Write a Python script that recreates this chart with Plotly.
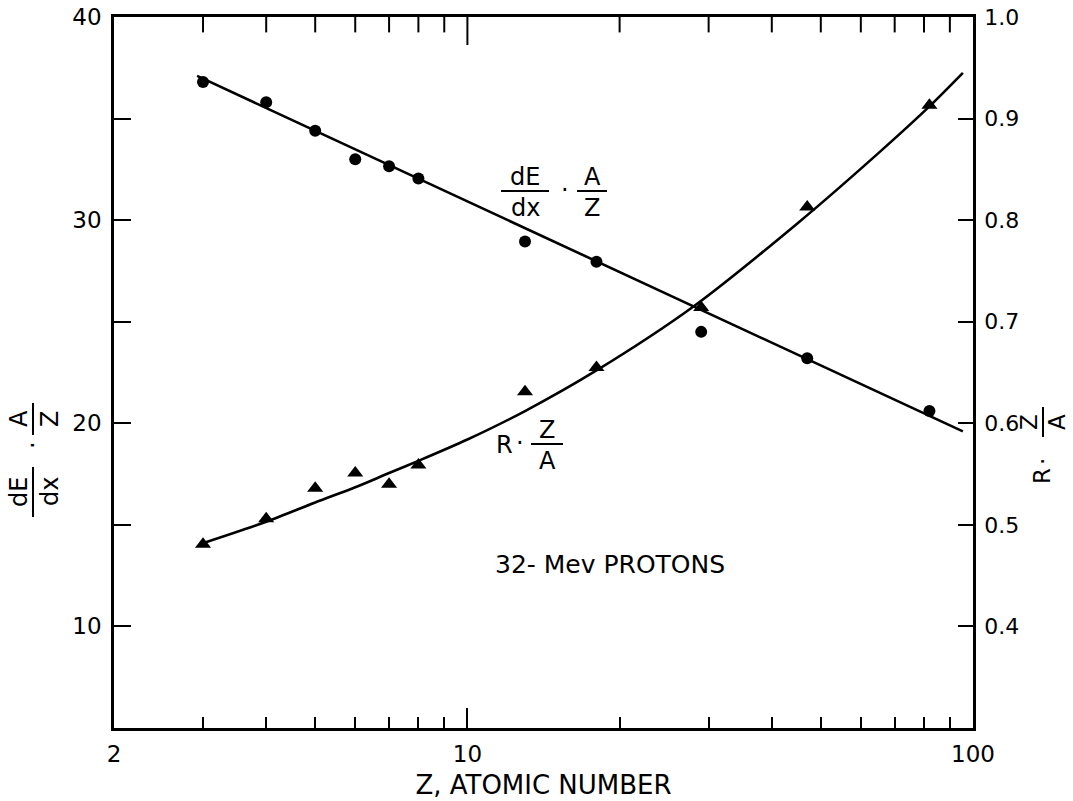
import math
import plotly.graph_objects as go

# ---------------- data ----------------
# dE/dx * A/Z  (circles, left axis)
circle_Z = [3, 4, 5, 6, 7, 8, 13, 18, 29, 47, 82]
circle_dedx = [36.8, 35.8, 34.4, 33.0, 32.65, 32.05, 28.95, 27.95, 24.5, 23.2, 20.6]

# R * Z/A  (triangles, right axis)
tri_Z = [3, 4, 5, 6, 7, 8, 13, 18, 29, 47, 82]
tri_range = [0.481, 0.506, 0.536, 0.551, 0.540, 0.559, 0.631, 0.655, 0.714, 0.813, 0.913]

# drawn fit line for dE/dx * A/Z (straight on log-Z scale)
fit_dedx_Z = [2.92, 95.5]
fit_dedx_vals = [37.1, 19.6]

# drawn fit curve for R * Z/A
fit_range_Z = [2.96, 4.0, 5.0, 6.0, 7.0, 8.0, 10.0, 13.0, 18.0, 28.0, 45.0, 65.0, 82.0, 95.5]
fit_range_vals = [0.481, 0.503, 0.522, 0.537, 0.551, 0.563, 0.584, 0.612, 0.652, 0.715, 0.797, 0.866, 0.912, 0.945]

# axis ticks / ranges
x_range = [2, 100]
x_tick_vals = [2, 10, 100]
x_tick_text = ["2", "10", "100"]
x_minor_vals = [3, 4, 5, 6, 7, 8, 9, 20, 30, 40, 50, 60, 70, 80, 90]
x_top_major = [10]
yl_range = [5, 40]
yl_tick_vals = [10, 20, 30, 40]
yl_minor_vals = [15, 25, 35]
yr_range = [0.3, 1.0]
yr_tick_vals = [0.4, 0.5, 0.6, 0.7, 0.8, 0.9, 1.0]
yr_tick_text = ["0.4", "0.5", "0.6", "0.7", "0.8", "0.9", "1.0"]

# ---------------- layout geometry ----------------
W, H = 1073, 801
L, R, T, B = 114, 973, 17, 728
FONT = "DejaVu Sans"
BLACK = "black"
LABELFONT = 24


def px2paper(px, py):
    return (px - L) / (R - L), (B - py) / (B - T)


fig = go.Figure()

fig.add_trace(go.Scatter(
    x=fit_dedx_Z, y=fit_dedx_vals, mode="lines",
    line=dict(color=BLACK, width=2.6), yaxis="y",
    showlegend=False, hoverinfo="skip"))
fig.add_trace(go.Scatter(
    x=circle_Z, y=circle_dedx, mode="markers",
    marker=dict(symbol="circle", size=12, color=BLACK), yaxis="y", showlegend=False))
fig.add_trace(go.Scatter(
    x=fit_range_Z, y=fit_range_vals, mode="lines",
    line=dict(color=BLACK, width=2.6, shape="spline", smoothing=0.8),
    yaxis="y2", showlegend=False, hoverinfo="skip"))
fig.add_trace(go.Scatter(
    x=tri_Z, y=tri_range, mode="markers",
    marker=dict(symbol="triangle-up", size=14, color=BLACK), yaxis="y2", showlegend=False))

# top-frame tick marks: vertical line markers sitting on the top edge,
# clipped to the plot area so only the half hanging down is visible
fig.add_trace(go.Scatter(
    x=x_minor_vals, y=[yl_range[1]] * len(x_minor_vals), mode="markers",
    marker=dict(symbol="line-ns", size=22, color=BLACK, line=dict(color=BLACK, width=2)),
    cliponaxis=True, yaxis="y", showlegend=False, hoverinfo="skip"))
fig.add_trace(go.Scatter(
    x=x_top_major, y=[yl_range[1]] * len(x_top_major), mode="markers",
    marker=dict(symbol="line-ns", size=40, color=BLACK, line=dict(color=BLACK, width=2)),
    cliponaxis=True, yaxis="y", showlegend=False, hoverinfo="skip"))

annotations = []
shapes = []


def text_at(txt, px, py, size=LABELFONT, angle=0):
    x, y = px2paper(px, py)
    annotations.append(dict(
        text=txt, x=x, y=y, xref="paper", yref="paper", showarrow=False,
        xanchor="center", yanchor="middle", textangle=angle,
        font=dict(family=FONT, size=size, color=BLACK)))


def bar(px0, py0, px1, py1):
    x0, y0 = px2paper(px0, py0)
    x1, y1 = px2paper(px1, py1)
    shapes.append(dict(type="line", xref="paper", yref="paper",
                       x0=x0, y0=y0, x1=x1, y1=y1,
                       line=dict(color=BLACK, width=2)))


def frac(num, den, cx, cy, length, rotated=False, size=LABELFONT, off_n=14, off_d=17):
    if not rotated:
        text_at(num, cx, cy - off_n, size)
        text_at(den, cx, cy + off_d, size)
        bar(cx - length / 2, cy, cx + length / 2, cy)
    else:
        text_at(num, cx - off_n, cy, size, -90)
        text_at(den, cx + off_d, cy, size, -90)
        bar(cx, cy - length / 2, cx, cy + length / 2)


# in-plot label: dE/dx . A/Z
frac("dE", "dx", 525, 191, 48)
text_at("·", 565, 190)
frac("A", "Z", 592, 191, 30)

# in-plot label: R . Z/A
text_at("R", 504, 445)
text_at("·", 520, 443)
frac("Z", "A", 547, 444, 32)

# left axis title (rotated)
frac("dE", "dx", 33, 492, 50, rotated=True)
text_at("·", 33, 445, angle=-90)
frac("A", "Z", 33, 419, 32, rotated=True)

# right axis title (rotated)
text_at("R", 1042, 476, 23, angle=-90)
text_at("·", 1043, 462, 23, angle=-90)
frac("Z", "A", 1043, 422, 30, rotated=True, size=23, off_n=14, off_d=14)

# caption
text_at("32- Mev PROTONS", 610, 564, 25)

axis_common = dict(
    showgrid=False, zeroline=False, showline=True, linecolor=BLACK, linewidth=2.5,
    tickcolor=BLACK, tickwidth=2, automargin=False,
)

fig.update_layout(
    width=W, height=H,
    margin=dict(l=L, r=W - R, t=T, b=H - B, pad=0, autoexpand=False),
    paper_bgcolor="white", plot_bgcolor="white",
    showlegend=False,
    xaxis=dict(
        type="log", range=[math.log10(x_range[0]), math.log10(x_range[1])], mirror=True,
        tickmode="array", tickvals=x_tick_vals, ticktext=x_tick_text,
        ticks="inside", ticklen=20,
        minor=dict(tickmode="array", tickvals=x_minor_vals, ticks="inside",
                   ticklen=11, tickwidth=2, tickcolor=BLACK, showgrid=False),
        tickfont=dict(family=FONT, size=23, color=BLACK),
        title=dict(text="Z, ATOMIC NUMBER", standoff=10,
                   font=dict(family=FONT, size=26, color=BLACK)),
        ticklabelstandoff=4,
        **axis_common),
    yaxis=dict(
        range=yl_range, tickmode="array", tickvals=yl_tick_vals,
        ticks="inside", ticklen=17,
        minor=dict(tickmode="array", tickvals=yl_minor_vals, ticks="inside",
                   ticklen=17, tickwidth=2, tickcolor=BLACK, showgrid=False),
        ticklabelstandoff=5,
        tickfont=dict(family=FONT, size=23, color=BLACK),
        **axis_common),
    yaxis2=dict(
        range=yr_range, overlaying="y", side="right", anchor="x",
        tickmode="array", tickvals=yr_tick_vals, ticktext=yr_tick_text,
        ticks="inside", ticklen=15, ticklabelstandoff=4,
        tickfont=dict(family=FONT, size=22, color=BLACK),
        **axis_common),
    annotations=annotations,
    shapes=shapes,
)

fig.write_html("out.html")
